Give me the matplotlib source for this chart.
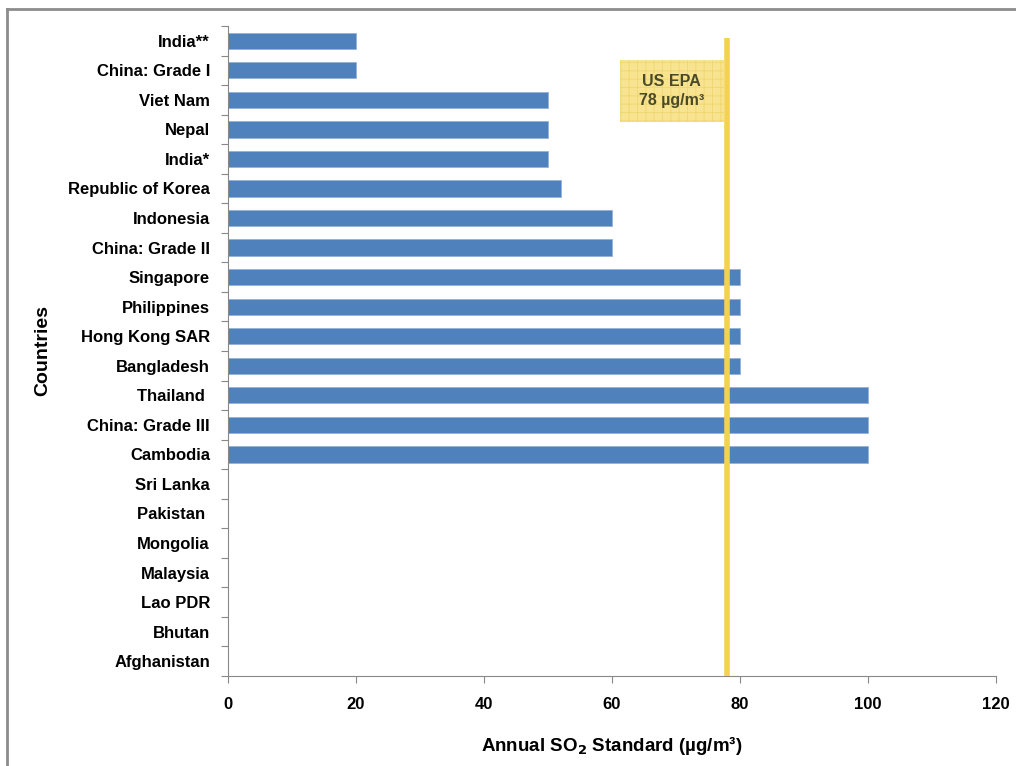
import matplotlib.pyplot as plt
from matplotlib.lines import Line2D
from matplotlib.patches import Rectangle

plt.rcParams['font.family'] = ['Liberation Sans', 'DejaVu Sans']
plt.rcParams['font.weight'] = 'bold'
plt.rcParams['axes.labelweight'] = 'bold'
plt.rcParams['hatch.linewidth'] = 0.6

# Data (top to bottom as shown)
countries = ["India**", "China: Grade I", "Viet Nam", "Nepal", "India*",
             "Republic of Korea", "Indonesia", "China: Grade II", "Singapore",
             "Philippines", "Hong Kong SAR", "Bangladesh", "Thailand ",
             "China: Grade III", "Cambodia", "Sri Lanka", "Pakistan ",
             "Mongolia", "Malaysia", "Lao PDR", "Bhutan", "Afghanistan"]
so2_annual = [20, 20, 50, 50, 50, 52, 60, 60, 80, 80, 80, 80, 100, 100, 100,
              0, 0, 0, 0, 0, 0, 0]
us_epa = 78

fig = plt.figure(figsize=(10.16, 7.66), dpi=100)
ax = fig.add_axes([0.2244, 0.1175, 0.7559, 0.8486])

n = len(countries)
ypos = list(range(n))
ax.barh(ypos, so2_annual, height=0.55, color='#4F81BD', edgecolor='#95B3D7',
        linewidth=0.6, zorder=2)

ax.set_ylim(n - 0.5, -0.5)
ax.set_xlim(0, 120)
ax.set_xticks([0, 20, 40, 60, 80, 100, 120])
ax.tick_params(axis='x', length=5, color='#888888', labelsize=12, pad=10)

# category boundary ticks like Excel
ax.set_yticks([i - 0.5 for i in range(n + 1)])
ax.set_yticklabels([])
ax.set_yticks(ypos, minor=True)
ax.set_yticklabels(countries, minor=True, fontsize=12)
ax.tick_params(axis='y', which='major', length=5, color='#888888')
ax.tick_params(axis='y', which='minor', length=0, pad=13)

for s in ['top', 'right']:
    ax.spines[s].set_visible(False)
for s in ['left', 'bottom']:
    ax.spines[s].set_color('#888888')

# US EPA reference line
ax.plot([us_epa, us_epa], [n - 0.5, -0.1], color='#F2D250', linewidth=4,
        solid_capstyle='butt', zorder=3)
box = Rectangle((61.2, 0.65), 16.3, 2.1, facecolor='#F7E390',
                edgecolor='#EFD770', hatch='++', linewidth=0, zorder=4)
ax.add_patch(box)
ax.text(69.3, 1.7, "US EPA\n78 µg/m³", ha='center', va='center',
        fontsize=11.5, color='#4A4A28', linespacing=1.4, zorder=5)

ax.set_xlabel("Annual SO$_2$ Standard (µg/m³)", fontsize=13.5, labelpad=16)
ax.set_ylabel("Countries", fontsize=14, labelpad=12)

# outer frame
fig.add_artist(Line2D([0.007, 1.0], [0.988, 0.988], transform=fig.transFigure,
                      color='#8C8C8C', linewidth=2))
fig.add_artist(Line2D([0.007, 0.007], [0.0, 0.988], transform=fig.transFigure,
                      color='#8C8C8C', linewidth=2))

fig.savefig('out.png', dpi=100)
